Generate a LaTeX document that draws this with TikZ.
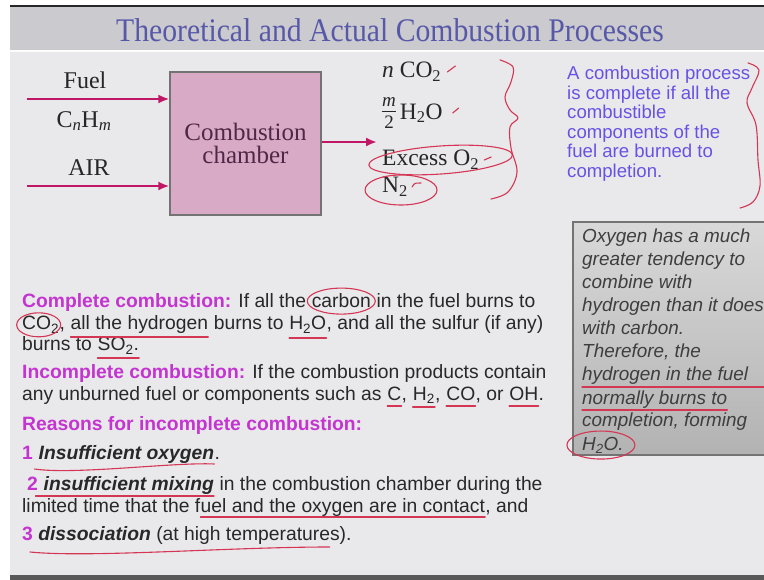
\documentclass[tikz,border=0pt]{standalone}
\usepackage{fontspec}
\setmainfont{Liberation Serif}
\setsansfont{Liberation Sans}
\usetikzlibrary{arrows.meta}

\definecolor{titleblue}{RGB}{88,88,168}
\definecolor{bandgray}{RGB}{202,202,207}
\definecolor{slidegray}{RGB}{233,233,235}
\definecolor{boxpink}{RGB}{216,170,198}
\definecolor{boxtext}{RGB}{78,40,70}
\definecolor{flowred}{RGB}{192,22,102}
\definecolor{headmag}{RGB}{196,52,208}
\definecolor{noteblue}{RGB}{104,82,228}
\definecolor{bodygray}{RGB}{40,40,40}
\definecolor{notegray}{RGB}{62,62,62}
\definecolor{inkred}{RGB}{212,54,84}

\tikzset{
  serif/.style={inner sep=0pt, font=\fontsize{24}{24}\selectfont, text=black!85},
  prod/.style={anchor=west, inner sep=0pt, font=\fontsize{23.5}{23.5}\selectfont, text=black!85},
  body/.style={anchor=base west, inner sep=0pt, font=\sffamily\fontsize{19.3}{22}\selectfont, text=bodygray},
  blue/.style={anchor=base west, inner sep=0pt, font=\sffamily\fontsize{18.6}{20}\selectfont, text=noteblue},
  note/.style={anchor=base west, inner sep=0pt, font=\sffamily\itshape\fontsize{18.9}{23}\selectfont, text=notegray},
  flow/.style={draw=flowred, line width=2.6pt, -{Latex[length=11pt,width=9pt]}},
  ink/.style={draw=inkred, line width=1.1pt, line cap=round, line join=round},
}
\newcommand{\hd}[1]{{\color{headmag}\bfseries #1}}
\newcommand{\sub}[1]{\textsubscript{#1}}
\newcommand{\gap}{\ \kern0pt}
\newcommand{\halfm}{\begin{tabular}{@{}c@{}}\fontsize{19}{19}\selectfont\textit{m}\\[-3pt]\hline\noalign{\vskip1pt}\fontsize{19}{19}\selectfont 2\end{tabular}}

\begin{document}
\begin{tikzpicture}[x=1pt,y=-1pt]
    \useasboundingbox (0,0) rectangle (764,580);

% slide background
    \fill[white] (0,0) rectangle (764,580);
    \fill[black!85] (10,5) rectangle (764,7.5);
    \fill[bandgray] (10,7.5) rectangle (764,50);
    \fill[white!95!bandgray] (10,50) rectangle (764,52);
    \fill[slidegray] (10,52) rectangle (764,575);
    \fill[black!65] (10,575) rectangle (764,580);

    \node[inner sep=0pt, text=titleblue] (title) at (390,30)
        {\scalebox{0.9}[1]{\fontsize{33}{33}\selectfont Theoretical and Actual Combustion Processes}};

% chamber and flows
    \node[draw=black!55, line width=1.2pt, fill=boxpink, minimum width=151pt, minimum height=143pt,
          align=center, inner sep=0pt, text=boxtext, font=\fontsize{25}{23}\selectfont]
          (chamber) at (245.5,143.5) {Combustion\\chamber};

    \node[serif] (fuel) at (85,80) {Fuel};
    \node[serif] (fuelformula) at (84,121) {C\sub{\textit{n}}H\sub{\textit{m}}};
    \node[serif] (air) at (89,168) {AIR};

    \coordinate (fuelin) at (27,99);
    \coordinate (airin) at (27,186);
    \coordinate (prodin) at (377,142);
    \draw[flow] (fuelin) -- (fuelin -| chamber.west);
    \draw[flow] (airin) -- (airin -| chamber.west);
    \draw[flow] (chamber.east |- prodin) -- (prodin);

% products
    \node[prod] (P1) at (382,72) {\textit{n} CO\sub{2}};
    \node[prod] (P2) at (382,113) {\halfm\,H\sub{2}O};
    \node[prod] (P3) at (382,160) {Excess O\sub{2}};
    \node[prod] (P4) at (382,187) {N\sub{2}};

% blue note
    \node[blue] (B1) at (567,80) {A combustion process};
    \node[blue] (B2) at (567,99.5) {is complete if all the};
    \node[blue] (B3) at (567,119) {combustible};
    \node[blue] (B4) at (567,138.5) {components of the};
    \node[blue] (B5) at (567,158) {fuel are burned to};
    \node[blue] (B6) at (567,177.5) {completion.};

% gray note box
    \shade[top color=black!15, bottom color=black!30] (573,222) rectangle (770,455);
    \draw[black!55, line width=1.3pt] (770,222) -- (573,222) -- (573,455) -- (770,455);
    \node[note] (G1) at (582,243) {Oxygen has a much};
    \node[note] (G2) at (582,266) {greater tendency to};
    \node[note] (G3) at (582,289) {combine with};
    \node[note] (G4) at (582,312) {hydrogen than it does};
    \node[note] (G5) at (582,335) {with carbon.};
    \node[note] (G6) at (582,358) {Therefore, the};
    \node[note] (G7) at (582,381) {hydrogen in the fuel};
    \node[note] (G8) at (582,404) {normally burns to};
    \node[note] (G9) at (582,427) {completion, forming};
    \node[note] (G10) at (582,450) {H\sub{2}O.};

% body text
    \node[body] (L1a) at (22,308) {\hd{Complete combustion:} If all the\gap};
    \node[body] (L1b) at (L1a.base east) {carbon};
    \node[body] (L1c) at (L1b.base east) {\ in the fuel burns to};

    \node[body] (L2a) at (22,330) {CO\sub{2}};
    \node[body] (L2b) at (L2a.base east) {,\gap};
    \node[body] (L2c) at (L2b.base east) {all the hydrogen};
    \node[body] (L2d) at (L2c.base east) {\ burns to\gap};
    \node[body] (L2e) at (L2d.base east) {H\sub{2}O};
    \node[body] (L2f) at (L2e.base east) {, and all the sulfur (if any)};

    \node[body] (L3a) at (22,351) {burns to\gap};
    \node[body] (L3b) at (L3a.base east) {SO\sub{2}.};

    \node[body] (L4) at (22,378) {\hd{Incomplete combustion:} If the combustion products contain};

    \node[body] (L5a) at (22,400) {any unburned fuel or components such as\gap};
    \node[body] (L5b) at (L5a.base east) {C};
    \node[body] (L5c) at (L5b.base east) {,\gap};
    \node[body] (L5d) at (L5c.base east) {H\sub{2}};
    \node[body] (L5e) at (L5d.base east) {,\gap};
    \node[body] (L5f) at (L5e.base east) {CO};
    \node[body] (L5g) at (L5f.base east) {, or\gap};
    \node[body] (L5h) at (L5g.base east) {OH};
    \node[body] (L5i) at (L5h.base east) {.};

    \node[body] (L6) at (22,430) {\hd{Reasons for incomplete combustion:}};

    \node[body] (L7a) at (22,460) {\hd{1}\gap};
    \node[body] (L7b) at (L7a.base east) {\bfseries\itshape Insufficient oxygen};
    \node[body] (L7c) at (L7b.base east) {.};

    \node[body] (L8a) at (27,490) {\hd{2}\gap};
    \node[body] (L8b) at (L8a.base east) {\bfseries\itshape insufficient mixing};
    \node[body] (L8c) at (L8b.base east) {\ in the combustion chamber during the};

    \node[body] (L9a) at (22,512) {limited time that the f};
    \node[body] (L9b) at (L9a.base east) {uel and the oxygen are in contact};
    \node[body] (L9c) at (L9b.base east) {, and};

    \node[body] (L10) at (22,540) {\hd{3} {\bfseries\itshape dissociation} (at high temperatures).};

% hand-drawn marks
    \draw[ink] ([xshift=6pt]P1.east) -- ++(8,-6);
    \draw[ink] ([xshift=10pt]P2.east) -- ++(6,-5);
    \draw[ink] ([xshift=5pt]P3.east) -- ++(7,-3);
    \draw[ink] ([xshift=4pt]P4.east) .. controls +(2,-5) and +(-3,0) .. ++(9,-4);
    \draw[ink] ([xshift=10pt]P3.center) ellipse [x radius=72pt, y radius=14pt, rotate=4];
    \draw[ink] ([xshift=6pt,yshift=-3pt]P4.center) ellipse [x radius=36pt, y radius=15pt];
    \draw[ink] plot[smooth, tension=0.6] coordinates {(500,60) (513,67) (511,82) (505,97) (510,110) (518,118) (510,127) (511,148) (517,172) (508,192) (491,199)};
    \draw[ink] plot[smooth, tension=0.6] coordinates {(748,63) (759,70) (752,88) (747,103) (756,125) (758,160) (760,186) (753,202) (740,208)};

    \draw[ink] (L1b.center) ellipse [x radius=34pt, y radius=13pt];
    \draw[ink] ([xshift=-2pt]L2a.center) ellipse [x radius=22pt, y radius=12pt];
    \draw[ink] ([yshift=-7pt]L2c.base west) -- ([yshift=-7pt]L2c.base east);
    \draw[ink] ([yshift=-8pt]L2e.base west) -- ([yshift=-8pt]L2e.base east);
    \draw[ink] ([yshift=-7pt]L3b.base west) -- ([yshift=-7pt]L3b.base east);
    \draw[ink] ([yshift=-6pt]L5b.base west) -- ([yshift=-6pt]L5b.base east);
    \draw[ink] ([yshift=-7pt]L5d.base west) -- ([yshift=-7pt]L5d.base east);
    \draw[ink] ([yshift=-6pt]L5f.base west) -- ([yshift=-6pt]L5f.base east);
    \draw[ink] ([yshift=-6pt]L5h.base west) -- ([yshift=-6pt]L5h.base east);
    \draw[ink] ([xshift=-4pt,yshift=-9pt]L7b.base west) .. controls +(40,6) and +(-40,-2) .. ([yshift=-4pt]L7b.base east);
    \draw[ink] ([xshift=-8pt,yshift=-6pt]L8b.base west) -- ([yshift=-6pt]L8b.base east);
    \draw[ink] ([yshift=-5pt]L9b.base west) -- ([yshift=-5pt]L9b.base east);
    \draw[ink] ([xshift=8pt,yshift=-12pt]L10.base west) .. controls +(60,6) and +(-100,0) .. ([xshift=-22pt,yshift=-7pt]L10.base east);

    \draw[ink] ([yshift=-6pt]G7.base west) -- ([xshift=20pt,yshift=-6pt]G7.base east);
    \draw[ink] ([yshift=-6pt]G8.base west) -- ([yshift=-6pt]G8.base east);
    \draw[ink] ([xshift=-2pt]G10.center) ellipse [x radius=34pt, y radius=14pt];
\end{tikzpicture}
\end{document}
